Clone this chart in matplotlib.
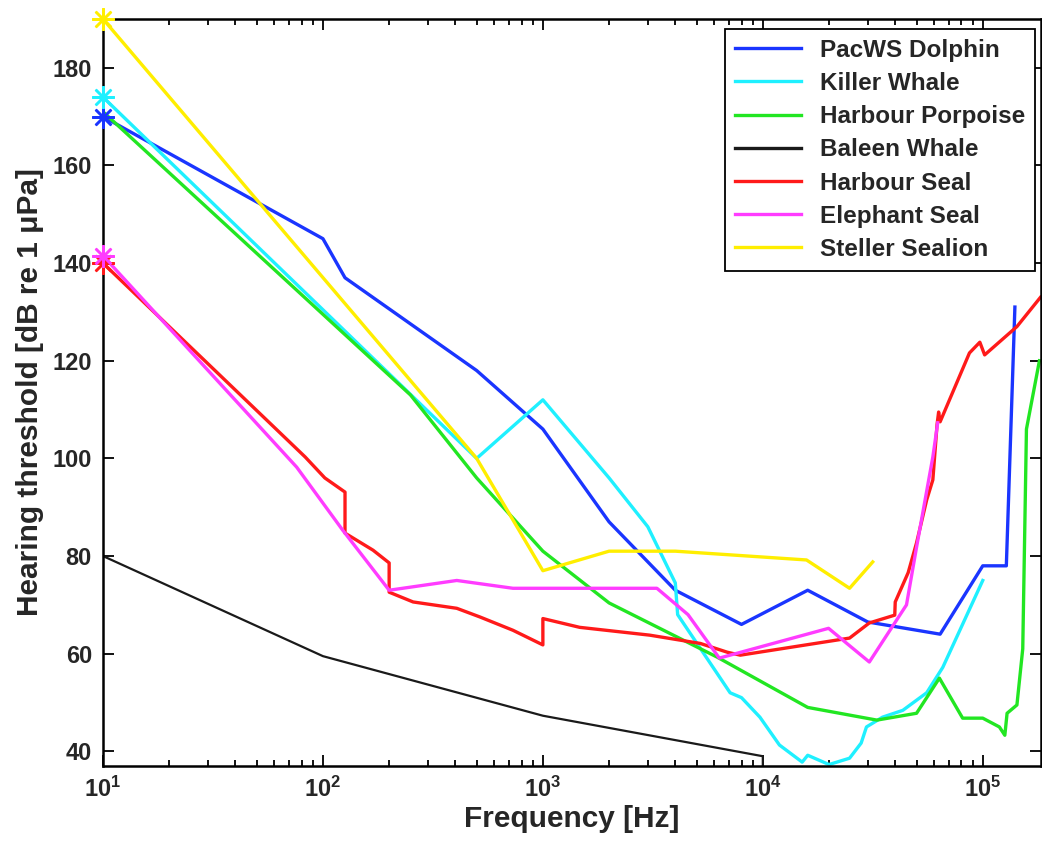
import numpy as np
import matplotlib
matplotlib.use("Agg")
import matplotlib.pyplot as plt
from matplotlib.ticker import FixedLocator, FuncFormatter, LogLocator, NullFormatter

# hearing thresholds (freq in Hz, threshold in dB re 1 uPa)
names = ["PacWS Dolphin", "Killer Whale", "Harbour Porpoise", "Baleen Whale",
         "Harbour Seal", "Elephant Seal", "Steller Sealion"]
colors = ["#1a35ff", "#1ff0ff", "#22e622", "#1a1a1a", "#ff1a1a", "#ff3cff", "#ffee00"]

f_pacws = [10, 100, 126, 500, 1000, 2000, 4000, 8000, 16000, 30000, 64000, 100000, 128000, 140000]
t_pacws = [170, 145, 137, 118, 106, 87, 73, 66, 73, 66.5, 64, 78, 78, 131]

f_killer = [10, 500, 1000, 2000, 3000, 4000, 4100, 7100, 8000, 9700, 11900, 15100, 16000,
            20000, 24800, 28000, 29600, 35000, 43300, 55600, 65800, 100000]
t_killer = [174, 100, 112, 96, 86, 74.5, 68, 52, 51, 47, 41.3, 37.8, 39.2,
            37.3, 38.6, 41.7, 45, 47, 48.4, 52, 57.2, 75]

f_porpoise = [10, 250, 500, 1000, 2000, 6200, 16000, 33000, 50000, 63500, 81000, 100000,
              119000, 126000, 129000, 143000, 152000, 158000, 181000]
t_porpoise = [171, 113, 96, 81, 70.4, 59.3, 49, 46.4, 47.8, 55, 46.8, 46.8,
              45, 43.3, 47.8, 49.5, 61, 106, 120]

f_baleen = [10, 100, 1000, 10000, 10000]
t_baleen = [80, 59.5, 47.3, 39, 35]

f_hseal = [10, 83, 102, 126, 126, 169, 200, 200, 257, 406, 519, 731, 1000, 1000, 1470,
           3060, 5200, 6900, 7900, 24800, 30500, 39800, 40000, 45800, 50000, 55600, 59300,
           62000, 63000, 64000, 87000, 97000, 102000, 143000, 183000]
t_hseal = [140, 100.3, 96, 93.1, 84.7, 81.2, 78.6, 72.6, 70.6, 69.3, 67.5, 64.8, 61.8, 67.2, 65.4,
           63.8, 62.1, 60.3, 59.7, 63.2, 66.3, 67.9, 70.6, 76.6, 82.7, 91.5, 95.6,
           107, 109.5, 107.5, 121.6, 123.8, 121.2, 127, 133]

f_eseal = [10, 76, 123, 200, 406, 731, 3300, 4570, 6340, 19900, 30500, 45000, 50000, 59300, 62400]
t_eseal = [141.5, 98.2, 85.3, 73, 75, 73.4, 73.4, 68, 59.1, 65.2, 58.3, 70, 81.8, 100.3, 107.3]

f_sealion = [10, 500, 1000, 2000, 4000, 15800, 24800, 31600]
t_sealion = [190, 100, 77, 81, 81, 79.2, 73.4, 78.8]

freqs = [f_pacws, f_killer, f_porpoise, f_baleen, f_hseal, f_eseal, f_sealion]
thresh = [t_pacws, t_killer, t_porpoise, t_baleen, t_hseal, t_eseal, t_sealion]
starred = [True, True, False, False, True, True, True]

yticks = [40, 60, 80, 100, 120, 140, 160, 180]
xticks = [1e1, 1e2, 1e3, 1e4, 1e5]

txt = "#262626"
plt.rcParams["font.family"] = ["Liberation Sans", "DejaVu Sans"]
plt.rcParams["font.weight"] = "bold"
plt.rcParams["axes.labelweight"] = "bold"
plt.rcParams["mathtext.fontset"] = "custom"
plt.rcParams["mathtext.bf"] = "Liberation Sans:bold"
plt.rcParams["mathtext.rm"] = "Liberation Sans:bold"

fig = plt.figure(figsize=(10.42, 8.43), dpi=100)
ax = fig.add_axes([103 / 1042, 77 / 843, 938 / 1042, 747 / 843])

for f, t, c, n, s in zip(freqs, thresh, colors, names, starred):
    lw = 1.6 if c == "#1a1a1a" else 2.4
    ax.plot(f, t, color=c, lw=lw, label=n)
    if s:
        # asterisk at the first (10 Hz) point, drawn over the axis line
        ax.plot(f[:1], t[:1], ls="none", color=c, marker=(8, 2, 0), ms=16, mew=1.8,
                clip_on=False, zorder=5)

ax.set_xscale("log")
ax.set_xlim(10, 1.84e5)
ax.set_ylim(37, 190)
ax.xaxis.set_major_locator(FixedLocator(xticks))
ax.xaxis.set_minor_locator(LogLocator(base=10, subs=np.arange(2, 10)))
ax.xaxis.set_minor_formatter(NullFormatter())
ax.xaxis.set_major_formatter(FuncFormatter(lambda v, p: r"$\mathbf{10^{%d}}$" % round(np.log10(v))))
ax.set_yticks(yticks)

ax.tick_params(which="both", direction="in", top=True, right=True, colors="black",
               labelcolor=txt, labelsize=17, width=1.3)
ax.tick_params(which="major", length=8, pad=8)
ax.tick_params(which="minor", length=4.5)
for sp in ax.spines.values():
    sp.set_linewidth(1.8)

ax.set_xlabel("Frequency [Hz]", fontsize=21.5, color=txt, fontweight="bold", labelpad=2)
ax.set_ylabel("Hearing threshold [dB re 1 \u03bcPa]", fontsize=21.5, color=txt,
              fontweight="bold", labelpad=6)

leg = ax.legend(loc="upper right", bbox_to_anchor=(0.9936, 0.9866), borderaxespad=0,
                fontsize=17.5, handlelength=2.7, handletextpad=0.8, labelspacing=0.42,
                borderpad=0.4, fancybox=False, framealpha=1, edgecolor="black")
leg.get_frame().set_linewidth(1.3)
for h in leg.legend_handles:
    h.set_linewidth(2.4)
for tx in leg.get_texts():
    tx.set_color(txt)

fig.savefig("out.png", dpi=100)
